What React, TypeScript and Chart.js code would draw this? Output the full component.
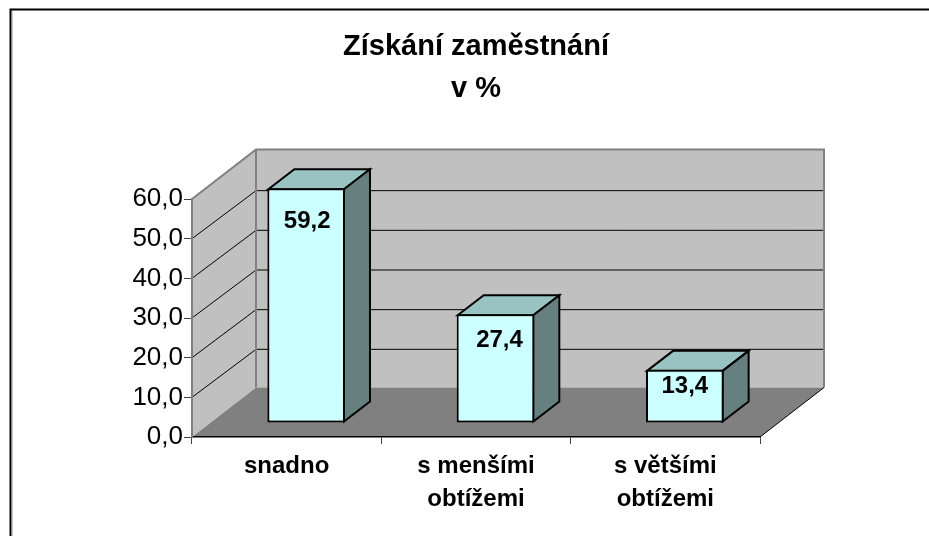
import React, { useEffect, useRef } from "react";
import { Chart, registerables } from "chart.js";

Chart.register(...registerables);

const categories = [["snadno"], ["s menšími", "obtížemi"], ["s většími", "obtížemi"]];
const values = [59.2, 27.4, 13.4];
const titleLines = ["Získání zaměstnání", "v %"];
const yTicksMax = 60;
const yTickStep = 10;

const fmt = (v: number) => v.toFixed(1).replace(".", ",");

const WALL_DX = 64;
const WALL_DY = 49.5;
const BAR_SHIFT_X = 19.5;
const BAR_SHIFT_Y = 14;
const BAR_DX = 26;
const BAR_DY = 20;
const LABEL_DROP = [33, 26.5, 16.5];
const LABEL_NUDGE = [1, 4, 0];

function poly(ctx: CanvasRenderingContext2D, pts: number[][], fill?: string, stroke?: string, lw = 1) {
  ctx.beginPath();
  pts.forEach((p, i) => (i ? ctx.lineTo(p[0], p[1]) : ctx.moveTo(p[0], p[1])));
  ctx.closePath();
  if (fill) {
    ctx.fillStyle = fill;
    ctx.fill();
  }
  if (stroke) {
    ctx.strokeStyle = stroke;
    ctx.lineWidth = lw;
    ctx.lineJoin = "miter";
    ctx.stroke();
  }
}

function line(ctx: CanvasRenderingContext2D, pts: number[][], stroke: string, lw = 1) {
  ctx.beginPath();
  pts.forEach((p, i) => (i ? ctx.lineTo(p[0], p[1]) : ctx.moveTo(p[0], p[1])));
  ctx.strokeStyle = stroke;
  ctx.lineWidth = lw;
  ctx.stroke();
}

const scene3d = {
  id: "scene3d",
  beforeDraw(chart: any) {
    const { ctx, chartArea: a, scales } = chart;
    const y = scales.y;
    ctx.save();
    // picture frame
    line(ctx, [[10.5, 536], [10.5, 9.5], [929, 9.5]], "#000", 2);
    line(ctx, [[12.5, 536], [12.5, 11]], "#c8c8c8", 1);

    const bl = [a.left, a.bottom];
    const tl = [a.left, a.top];
    const br = [a.right, a.bottom];
    const bbl = [a.left + WALL_DX, a.bottom - WALL_DY];
    const btl = [a.left + WALL_DX, a.top - WALL_DY];
    const bbr = [a.right + WALL_DX, a.bottom - WALL_DY];
    const btr = [a.right + WALL_DX, a.top - WALL_DY];

    poly(ctx, [bbl, btl, btr, bbr], "#c0c0c0");
    poly(ctx, [bl, tl, btl, bbl], "#c0c0c0");
    poly(ctx, [bl, bbl, bbr, br], "#808080");

    y.ticks.forEach((tk: any) => {
      if (tk.value <= 0 || tk.value >= yTicksMax) return;
      const py = y.getPixelForValue(tk.value);
      line(ctx, [[a.left, py], [a.left + WALL_DX, py - WALL_DY + 1.5], [a.right + WALL_DX, py - WALL_DY + 1.5]], "#000", 1);
    });

    line(ctx, [tl, btl, btr, bbr], "#808080", 2);
    line(ctx, [btl, bbl], "#808080", 2);
    line(ctx, [br, bbr], "#000", 1);
    ctx.restore();
  },
  beforeDatasetsDraw(chart: any) {
    const { ctx } = chart;
    const meta = chart.getDatasetMeta(0);
    ctx.save();
    ctx.translate(BAR_SHIFT_X, -BAR_SHIFT_Y);
    meta.data.forEach((el: any) => {
      const { x, y, base, width } = el.getProps(["x", "y", "base", "width"], true);
      const l = x - width / 2 + 1;
      const r = x + width / 2 - 1;
      const t = y + 1;
      const b = base - 1;
      poly(ctx, [[l, t], [l + BAR_DX, t - BAR_DY], [r + BAR_DX, t - BAR_DY], [r, t]], "#99c2c2", "#000", 2);
      poly(ctx, [[r, t], [r + BAR_DX, t - BAR_DY], [r + BAR_DX, b - BAR_DY], [r, b]], "#668080", "#000", 2);
    });
    // front faces are drawn by the library inside this shifted frame
  },
  afterDatasetsDraw(chart: any) {
    const { ctx } = chart;
    ctx.restore();
    const meta = chart.getDatasetMeta(0);
    ctx.save();
    ctx.fillStyle = "#000";
    ctx.font = 'bold 24px "Liberation Sans", Arial, sans-serif';
    ctx.textAlign = "center";
    ctx.textBaseline = "middle";
    meta.data.forEach((el: any, i: number) => {
      const { x, y } = el.getProps(["x", "y"], true);
      ctx.fillText(fmt(values[i]), x + BAR_SHIFT_X + LABEL_NUDGE[i], y - BAR_SHIFT_Y + LABEL_DROP[i]);
    });
    ctx.restore();
  },
};

export default function App() {
  const ref = useRef<HTMLCanvasElement>(null);
  useEffect(() => {
    const chart = new Chart(ref.current as HTMLCanvasElement, {
      type: "bar",
      data: {
        labels: categories,
        datasets: [
          {
            data: values,
            backgroundColor: "#ccffff",
            borderColor: "#000",
            borderWidth: 2,
            borderSkipped: false,
            barPercentage: 0.41,
            categoryPercentage: 1,
            clip: false,
          } as any,
        ],
      },
      options: {
        responsive: false,
        animation: false,
        events: [],
        layout: { padding: { left: 0, right: 169, top: 26, bottom: 0 } },
        plugins: {
          legend: { display: false },
          tooltip: { enabled: false },
          title: {
            display: true,
            fullSize: false,
            text: titleLines,
            color: "#000",
            font: { family: '"Liberation Sans", Arial, sans-serif', size: 29, weight: "bold", lineHeight: 42 / 29 },
            padding: { top: 0, bottom: 89 },
          },
        },
        scales: {
          x: {
            afterFit(s: any) {
              s.height = 99;
            },
            grid: {
              display: true,
              drawOnChartArea: false,
              drawTicks: true,
              tickLength: 7,
              tickColor: "#404040",
              offset: true,
            },
            border: { display: true, color: "#000", width: 1.5 },
            ticks: {
              color: "#000",
              autoSkip: false,
              maxRotation: 0,
              padding: 6,
              font: { family: '"Liberation Sans", Arial, sans-serif', size: 24, weight: "bold", lineHeight: 33 / 24 },
            },
          },
          y: {
            min: 0,
            max: yTicksMax,
            afterFit(s: any) {
              s.width = 192;
            },
            grid: {
              display: true,
              drawOnChartArea: false,
              drawTicks: true,
              tickLength: 8,
              tickColor: "#404040",
            },
            border: { display: true, color: "#808080", width: 2 },
            ticks: {
              stepSize: yTickStep,
              color: "#000",
              padding: 1,
              callback: (v: any) => fmt(Number(v)),
              font: { family: '"Liberation Sans", Arial, sans-serif', size: 26 },
            },
          },
        },
      },
      plugins: [scene3d as any],
    } as any);
    return () => chart.destroy();
  }, []);
  return (
    <div style={{ position: "absolute", left: 0, top: 0, width: 929, height: 536 }}>
      <canvas ref={ref} width={929} height={536} style={{ display: "block" }} />
    </div>
  );
}
